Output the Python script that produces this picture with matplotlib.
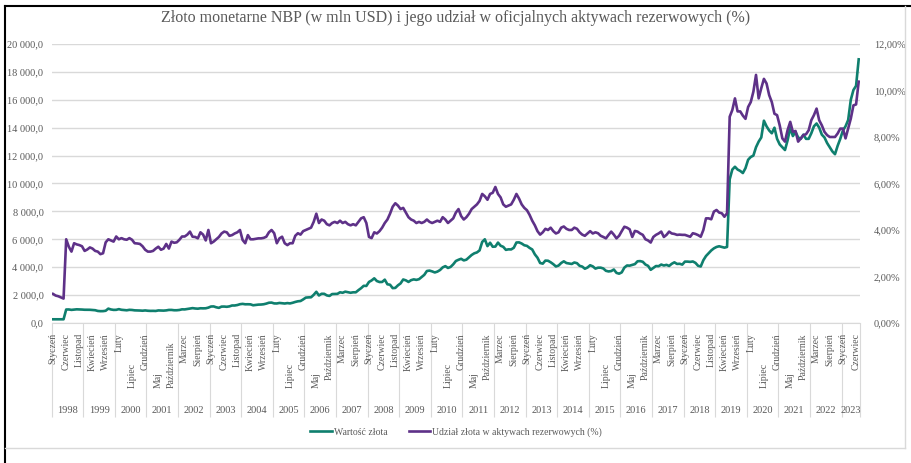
import matplotlib.pyplot as plt
from matplotlib.lines import Line2D
from matplotlib.ticker import FuncFormatter, FixedLocator

plt.rcParams['font.family'] = ['Liberation Serif', 'DejaVu Serif']

years = list(range(1998, 2024))
month_names = ["Styczeń", "Luty", "Marzec", "Kwiecień", "Maj", "Czerwiec", "Lipiec",
               "Sierpień", "Wrzesień", "Październik", "Listopad", "Grudzień"]

# wartość złota, mln USD (miesięcznie, 1998-01 .. 2023-07)
gold_value = [
    265, 265, 265, 265, 265, 966, 969, 940, 956, 979, 973, 963,
    949, 949, 946, 933, 916, 863, 847, 850, 877, 1029, 969, 939,
    943, 992, 946, 926, 910, 943, 933, 906, 903, 893, 880, 900,
    877, 867, 870, 863, 900, 893, 887, 903, 936, 936, 913, 913,
    933, 979, 973, 1002, 1039, 1065, 1039, 1025, 1055, 1049, 1055, 1102,
    1181, 1188, 1125, 1085, 1174, 1178, 1161, 1191, 1254, 1254, 1287, 1346,
    1370, 1340, 1343, 1336, 1270, 1297, 1317, 1323, 1343, 1389, 1452, 1462,
    1403, 1399, 1436, 1419, 1396, 1426, 1403, 1449, 1508, 1555, 1575, 1687,
    1819, 1836, 1843, 2018, 2236, 1972, 2094, 2091, 1978, 1939, 2074, 2081,
    2087, 2200, 2167, 2246, 2206, 2167, 2200, 2200, 2355, 2494, 2666, 2656,
    2941, 3050, 3202, 3007, 2937, 2941, 3106, 2775, 2742, 2500, 2514, 2699,
    2838, 3119, 3057, 2944, 3070, 3126, 3090, 3139, 3295, 3450, 3728, 3755,
    3698, 3622, 3685, 3798, 3986, 4075, 3946, 4019, 4205, 4443, 4532, 4601,
    4486, 4539, 4711, 4876, 4995, 5058, 5203, 5809, 6000, 5511, 5753, 5465,
    5478, 5763, 5538, 5458, 5243, 5279, 5273, 5392, 5769, 5779, 5696, 5571,
    5528, 5382, 5270, 4919, 4678, 4300, 4254, 4472, 4462, 4353, 4218, 4052,
    4115, 4300, 4420, 4297, 4261, 4231, 4337, 4287, 4099, 4042, 3890, 3976,
    4138, 4059, 3900, 3963, 3966, 3907, 3741, 3695, 3722, 3834, 3593, 3533,
    3629, 3970, 4122, 4109, 4168, 4221, 4423, 4436, 4387, 4191, 4095, 3811,
    3943, 4082, 4072, 4188, 4122, 4168, 4089, 4244, 4347, 4234, 4244, 4185,
    4400, 4400, 4380, 4410, 4310, 4100, 4050, 4500, 4800, 5000, 5200, 5350,
    5450, 5500, 5450, 5400, 5450, 10300, 11000, 11200, 11000, 10900, 10750, 11100,
    11700, 11900, 12000, 12600, 13000, 13300, 14500, 14100, 13800, 13600, 14000, 13200,
    12800, 12600, 12400, 13100, 14000, 13400, 13700, 13300, 13200, 13500, 13200, 13200,
    13600, 14100, 14300, 14000, 13500, 13300, 12900, 12600, 12300, 12100, 12700, 13200,
    13800, 14100, 14550, 16000, 16700, 17000, 18900,
]

# udział złota w oficjalnych aktywach rezerwowych, %
gold_share = [
    1.25, 1.18, 1.15, 1.10, 1.05, 3.60, 3.28, 3.07, 3.43, 3.38, 3.35, 3.30,
    3.10, 3.16, 3.25, 3.20, 3.10, 3.07, 2.96, 3.00, 3.47, 3.60, 3.55, 3.50,
    3.72, 3.60, 3.65, 3.60, 3.58, 3.65, 3.58, 3.43, 3.42, 3.40, 3.30, 3.15,
    3.07, 3.07, 3.10, 3.20, 3.28, 3.15, 3.20, 3.40, 3.20, 3.50, 3.45, 3.47,
    3.58, 3.72, 3.72, 3.80, 3.93, 3.71, 3.70, 3.64, 3.90, 3.80, 3.55, 4.00,
    3.43, 3.50, 3.60, 3.70, 3.85, 3.93, 3.90, 3.75, 3.78, 3.85, 3.90, 4.00,
    3.57, 3.43, 3.78, 3.60, 3.60, 3.62, 3.64, 3.64, 3.66, 3.71, 3.90, 4.00,
    3.86, 3.43, 3.64, 3.71, 3.43, 3.35, 3.43, 3.43, 3.75, 3.86, 3.80, 3.95,
    4.00, 4.05, 4.10, 4.35, 4.70, 4.30, 4.45, 4.40, 4.25, 4.20, 4.30, 4.35,
    4.30, 4.40, 4.30, 4.35, 4.25, 4.20, 4.25, 4.20, 4.35, 4.50, 4.55, 4.30,
    3.70, 3.65, 3.90, 3.85, 3.95, 4.10, 4.30, 4.45, 4.70, 5.00, 5.15, 5.05,
    4.90, 4.95, 4.75, 4.55, 4.45, 4.40, 4.30, 4.35, 4.30, 4.35, 4.45, 4.35,
    4.30, 4.35, 4.40, 4.35, 4.55, 4.45, 4.30, 4.40, 4.50, 4.75, 4.90, 4.60,
    4.45, 4.55, 4.70, 4.90, 5.00, 5.10, 5.25, 5.55, 5.45, 5.30, 5.55, 5.60,
    5.85, 5.55, 5.40, 5.10, 5.00, 5.05, 5.10, 5.30, 5.55, 5.35, 5.10, 4.95,
    4.85, 4.65, 4.40, 4.20, 3.95, 3.80, 3.90, 4.05, 4.00, 4.10, 3.95, 3.85,
    3.90, 4.10, 4.15, 4.05, 4.00, 4.00, 4.10, 4.05, 3.90, 3.80, 3.75, 3.85,
    3.95, 3.85, 3.90, 3.86, 3.75, 3.70, 3.64, 3.79, 3.93, 3.80, 3.64, 3.75,
    3.95, 4.14, 4.10, 4.03, 3.70, 3.96, 3.93, 3.85, 3.79, 3.60, 3.55, 3.46,
    3.70, 3.79, 3.85, 3.93, 3.70, 3.79, 3.93, 3.85, 3.83, 3.79, 3.80, 3.79,
    3.79, 3.75, 3.71, 3.86, 3.83, 3.78, 3.71, 4.00, 4.50, 4.50, 4.46, 4.79,
    4.86, 4.75, 4.72, 4.57, 4.72, 8.87, 9.16, 9.66, 9.10, 9.10, 8.92, 8.78,
    9.29, 9.50, 9.95, 10.67, 9.66, 10.10, 10.50, 10.30, 9.80, 9.50, 9.00, 8.94,
    8.50, 7.94, 7.80, 8.30, 8.65, 8.22, 8.26, 7.80, 7.94, 8.08, 8.12, 8.29,
    8.72, 8.94, 9.22, 8.72, 8.50, 8.22, 8.08, 8.00, 8.00, 8.00, 8.15, 8.36,
    8.36, 7.94, 8.36, 8.79, 9.36, 9.40, 10.38,
]

teal = "#0f7f6e"
purple = "#5e3188"
grey_txt = "#595959"
grid_c = "#d9d9d9"

n = len(gold_value)
x = list(range(n))

fig = plt.figure(figsize=(9.12, 4.63), dpi=100)
ax = fig.add_axes([0.0567, 0.3024, 0.8863, 0.6026])
ax2 = ax.twinx()

ax.plot(x, gold_value, color=teal, lw=1.9, solid_joinstyle="round")
ax2.plot(x, gold_share, color=purple, lw=1.9, solid_joinstyle="round")

ax.set_xlim(-0.5, n - 0.5)
ax.set_ylim(0, 20000)
ax.set_yticks(range(0, 20001, 2000))
ax2.set_ylim(0, 12)
ax2.set_yticks(range(0, 13, 2))

ax.yaxis.set_major_formatter(FuncFormatter(lambda v, p: f"{v:,.1f}".replace(",", " ").replace(".", ",")))
ax2.yaxis.set_major_formatter(FuncFormatter(lambda v, p: f"{v:.2f}".replace(".", ",") + "%"))

ax.grid(axis="y", color=grid_c, lw=1)
ax.set_axisbelow(True)
for a in (ax, ax2):
    for s in a.spines.values():
        s.set_visible(False)
    a.tick_params(axis="y", length=0, labelsize=7.5, labelcolor=grey_txt)
ax.tick_params(axis="y", pad=6)
ax2.tick_params(axis="y", pad=10)
ax.spines["bottom"].set_visible(True)
ax.spines["bottom"].set_color(grid_c)

# granice lat jako znaczniki osi
bounds = [12 * k - 0.5 for k in range(len(years))] + [n - 0.5]
ax.xaxis.set_major_locator(FixedLocator(bounds))
ax.tick_params(axis="x", length=68, color=grid_c, width=0.8, labelbottom=False)

# etykiety miesięcy co 5 miesięcy
xt = ax.get_xaxis_transform()
for i in range(0, n, 5):
    name = month_names[i % 12]
    low = (i % 12) in (4, 6) or i == 45
    if low:
        ax.text(i, -0.233, name, rotation=90, ha="center", va="bottom",
                transform=xt, fontsize=7, color=grey_txt)
    else:
        ax.text(i, -0.036, name, rotation=90, ha="center", va="top",
                transform=xt, fontsize=7, color=grey_txt)

for k, yr in enumerate(years):
    a0 = 12 * k - 0.5
    a1 = min(12 * k + 11.5, n - 0.5)
    ax.text((a0 + a1) / 2, -0.312, str(yr), ha="center", va="center",
            transform=xt, fontsize=7.5, color=grey_txt)

fig.text(0.5, 1 - 18 / 463, "Złoto monetarne NBP (w mln USD) i jego udział w oficjalnych aktywach rezerwowych (%)",
         ha="center", va="center", fontsize=11.5, color=grey_txt)

handles = [Line2D([], [], color=teal, lw=1.9), Line2D([], [], color=purple, lw=1.9)]
fig.legend(handles, ["Wartość złota", "Udział złota w aktywach rezerwowych (%)"],
           loc="center", bbox_to_anchor=(0.5, 1 - 432 / 463), ncol=2, frameon=False,
           fontsize=7, labelcolor=grey_txt, handlelength=2.2, handletextpad=0.2,
           columnspacing=2.2)

# ramki zrzutu
fig.add_artist(Line2D([5 / 912, 1], [1 - 6 / 463, 1 - 6 / 463], color="black", lw=1.5))
fig.add_artist(Line2D([5 / 912, 5 / 912], [0, 1 - 6 / 463], color="black", lw=1.5))
fig.add_artist(Line2D([905 / 912, 905 / 912], [1 - 448 / 463, 1 - 6 / 463], color=grid_c, lw=1))
fig.add_artist(Line2D([5 / 912, 905 / 912], [1 - 448 / 463, 1 - 448 / 463], color=grid_c, lw=1))

fig.savefig("out.png", dpi=100)
